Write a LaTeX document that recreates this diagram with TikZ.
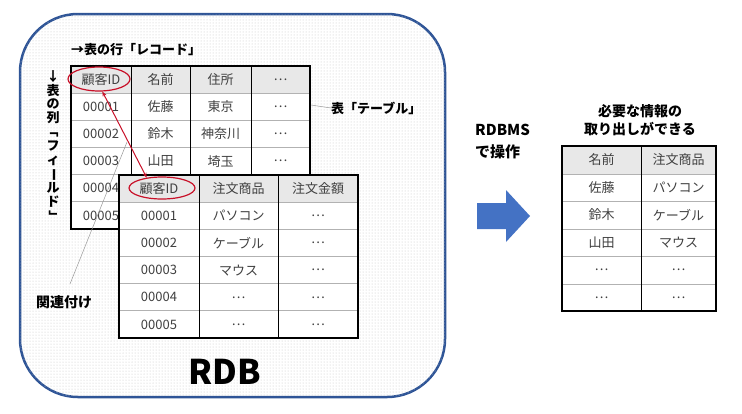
\documentclass[tikz,border=0pt]{standalone}
\usepackage{fontspec}
\setmainfont{Noto Sans CJK JP}
\usepackage{graphicx}
\usetikzlibrary{
    arrows.meta,
    shapes.geometric,
    patterns
}
\definecolor{rdbblue}{RGB}{47,85,151}
\definecolor{arrowblue}{RGB}{68,114,196}
\definecolor{ovalred}{RGB}{200,16,40}
\definecolor{celltext}{RGB}{64,64,64}
\newcommand{\vrot}[1]{\rotatebox[origin=c]{-90}{#1}}
\tikzset{
    cell/.style={text=celltext,font=\fontsize{13}{15}\selectfont,inner sep=0pt},
    lbl/.style={font=\fontsize{13}{15}\selectfont\bfseries,inner sep=0pt},
    head/.style={fill=gray!18},
    frame/.style={line width=2pt},
    rowline/.style={gray!60,line width=0.8pt},
    colline/.style={line width=0.7pt},
    oval/.style={ellipse,draw=ovalred,line width=1.2pt,inner sep=0pt},
    thinline/.style={gray!80,line width=0.5pt}
}

\begin{document}
\begin{tikzpicture}[x=1pt,y=-1pt]
\useasboundingbox (0,0) rectangle (742,413);

% RDB frame
\draw[rdbblue,line width=2.5pt,rounded corners=58pt,fill=white,
      postaction={pattern=dots,pattern color=gray!45}]
    (20,14) rectangle (445,397);
\node[font=\fontsize{34}{36}\selectfont\bfseries] (rdb) at (225,372) {RDB};

% Labels for record and field
\node[lbl,anchor=west] (reclbl) at (71,50) {→表の行「レコード」};
\node[lbl,anchor=north,align=center,font=\fontsize{13}{13.9}\selectfont\bfseries]
    (fieldlbl) at (53,70)
    {↓\\表\\の\\列\\\vrot{「}\\フ\\ィ\\\vrot{ー}\\ル\\ド\\\vrot{」}};

% Customer table
\fill[head] (71,66) rectangle (310,93);
\fill[white] (71,93) rectangle (310,229);
\foreach \y in {93.2,120.3,147.5,174.7,201.8}
    \draw[rowline] (71,\y) -- (310,\y);
\foreach \x in {131,190,251}
    \draw[colline] (\x,66) -- (\x,229);
\draw[frame] (71,66) rectangle (310,229);
\foreach \a/\b/\c/\d [count=\r] in {顧客ID/名前/住所/…,00001/佐藤/東京/…,
        00002/鈴木/神奈川/…,00003/山田/埼玉/…}{
    \pgfmathsetmacro\yy{79.6+27.17*(\r-1)}
    \node[cell] (ta-\r-1) at (101,\yy) {\a};
    \node[cell] (ta-\r-2) at (160.5,\yy) {\b};
    \node[cell] (ta-\r-3) at (220.5,\yy) {\c};
    \node[cell] (ta-\r-4) at (280.5,\yy) {\d};
}
% rows behind the order table
\node[cell] (ta-5-1) at (101,188.3) {00004};
\node[cell] (ta-6-1) at (101,215.5) {00005};
\node[oval,minimum width=62pt,minimum height=24pt] (ovala) at (99,79) {};

% Table label
\node[lbl,anchor=west] (tbllbl) at (331,108) {表「テーブル」};
\coordinate (tblpt) at (311,105);
\draw[thinline] (tblpt) -- (tbllbl.west);

% Relation label
\node[lbl,font=\fontsize{14}{16}\selectfont\bfseries] (rellbl) at (64,302) {関連付け};
\coordinate (relpt) at (127,142);
\coordinate (relend) at (70,284);
\draw[thinline] (relpt) -- (relend);

% Order table
\fill[head] (119,175) rectangle (358,202);
\fill[white] (119,202) rectangle (358,338);
\foreach \y in {202.2,229.3,256.5,283.7,310.8}
    \draw[rowline] (119,\y) -- (358,\y);
\foreach \x in {199,278}
    \draw[colline] (\x,175) -- (\x,338);
\draw[frame] (119,175) rectangle (358,338);
\foreach \a/\b/\c [count=\r] in {顧客ID/注文商品/注文金額,00001/パソコン/…,
        00002/ケーブル/…,00003/マウス/…,00004/…/…,00005/…/…}{
    \pgfmathsetmacro\yy{188.6+27.17*(\r-1)}
    \node[cell] (tb-\r-1) at (159,\yy) {\a};
    \node[cell] (tb-\r-2) at (238.5,\yy) {\b};
    \node[cell] (tb-\r-3) at (318,\yy) {\c};
}
\node[oval,minimum width=66pt,minimum height=22pt] (ovalb) at (162,188) {};

% Link between keys
\draw[ovalred,line width=1pt,{Stealth[length=5pt,width=4pt]}-{Stealth[length=5pt,width=4pt]}]
    (ovala.-75) -- (ovalb.146);

% Operation arrow
\node[lbl,font=\fontsize{15}{22}\selectfont\bfseries,align=left,anchor=north west]
    (opslbl) at (475,124) {RDBMS\\で操作};
\fill[arrowblue] (477,203) -- (506,203) -- (506,190) -- (530,216)
    -- (506,242) -- (506,229) -- (477,229) -- cycle;

% Result table
\node[lbl,font=\fontsize{14}{18}\selectfont\bfseries,align=center]
    (reslbl) at (640,120) {必要な情報の\\取り出しができる};
\fill[head] (562,146) rectangle (716,174);
\fill[white] (562,174) rectangle (716,311);
\foreach \y in {174,201.5,229,256.5,284}
    \draw[rowline] (562,\y) -- (716,\y);
\draw[colline] (641,146) -- (641,311);
\draw[frame] (562,146) rectangle (716,311);
\foreach \a/\b [count=\r] in {名前/注文商品,佐藤/パソコン,鈴木/ケーブル,
        山田/マウス,…/…,…/…}{
    \pgfmathsetmacro\yy{160+27.5*(\r-1)}
    \node[cell] (tc-\r-1) at (601.5,\yy) {\a};
    \node[cell] (tc-\r-2) at (678.5,\yy) {\b};
}

\end{tikzpicture}
\end{document}
